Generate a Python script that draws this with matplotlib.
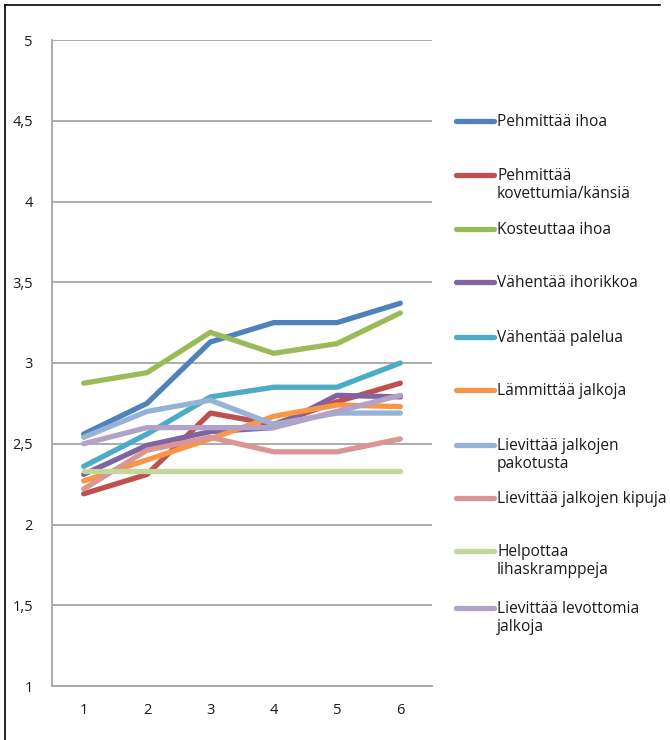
import matplotlib
matplotlib.use("Agg")
import matplotlib.pyplot as plt
from matplotlib.lines import Line2D

plt.rcParams['font.family'] = ['Open Sans', 'DejaVu Sans']

# Measurement rounds
rounds = [1, 2, 3, 4, 5, 6]

# Series names (legend) and their values per round
series_names = [
    "Pehmittää ihoa",
    "Pehmittää\nkovettumia/känsiä",
    "Kosteuttaa ihoa",
    "Vähentää ihorikkoa",
    "Vähentää palelua",
    "Lämmittää jalkoja",
    "Lievittää jalkojen\npakotusta",
    "Lievittää jalkojen kipuja",
    "Helpottaa\nlihaskramppeja",
    "Lievittää levottomia\njalkoja",
]

pehmittaa_ihoa = [2.56, 2.75, 3.13, 3.25, 3.25, 3.37]
pehmittaa_kovettumia = [2.19, 2.31, 2.69, 2.62, 2.76, 2.875]
kosteuttaa_ihoa = [2.875, 2.94, 3.19, 3.06, 3.12, 3.31]
vahentaa_ihorikkoa = [2.31, 2.49, 2.575, 2.60, 2.80, 2.79]
vahentaa_palelua = [2.36, 2.56, 2.79, 2.85, 2.85, 3.00]
lammittaa_jalkoja = [2.27, 2.40, 2.53, 2.67, 2.74, 2.73]
lievittaa_pakotusta = [2.54, 2.70, 2.77, 2.62, 2.69, 2.69]
lievittaa_kipuja = [2.22, 2.46, 2.54, 2.45, 2.45, 2.53]
helpottaa_kramppeja = [2.33, 2.33, 2.33, 2.33, 2.33, 2.33]
lievittaa_levottomia = [2.50, 2.60, 2.60, 2.60, 2.70, 2.80]

series_values = [
    pehmittaa_ihoa, pehmittaa_kovettumia, kosteuttaa_ihoa, vahentaa_ihorikkoa,
    vahentaa_palelua, lammittaa_jalkoja, lievittaa_pakotusta, lievittaa_kipuja,
    helpottaa_kramppeja, lievittaa_levottomia,
]

colors = [
    "#4F81BD", "#C0504D", "#9BBB59", "#8064A2", "#4BACC6",
    "#F79646", "#95B3D7", "#D99694", "#C3D69B", "#B3A2C7",
]

y_ticks = [1, 1.5, 2, 2.5, 3, 3.5, 4, 4.5, 5]
y_tick_labels = ["1", "1,5", "2", "2,5", "3", "3,5", "4", "4,5", "5"]

W, H = 670, 740
fig = plt.figure(figsize=(W / 100, H / 100), dpi=100)
ax = fig.add_axes([52 / W, 1 - 686 / H, 380 / W, 646 / H])

for vals, col in zip(series_values, colors):
    ax.plot(rounds, vals, color=col, lw=3.8, solid_capstyle="round",
            solid_joinstyle="round", zorder=3)

ax.set_xlim(0.5, 6.5)
ax.set_ylim(1, 5)
ax.set_yticks(y_ticks)
ax.set_yticklabels(y_tick_labels)
ax.set_xticks(rounds)
ax.set_xticklabels([str(r) for r in rounds])
ax.tick_params(axis="both", length=0, labelsize=10.5, colors="#1a1a1a")
ax.tick_params(axis="y", pad=13.7)
ax.tick_params(axis="x", pad=12.5)

grid_col = "#A6A6A6"
ax.yaxis.grid(True, color=grid_col, lw=1.3, zorder=1)
ax.set_axisbelow(True)
for side in ("top", "right"):
    ax.spines[side].set_visible(False)
for side in ("left", "bottom"):
    ax.spines[side].set_color(grid_col)
    ax.spines[side].set_linewidth(1.3)

# Legend: line sample, with the label's first line level with the sample
leg_y = [121, 175, 229, 282, 337, 390, 445, 498, 551, 608]
line_step = 18
for name, col, yp in zip(series_names, colors, leg_y):
    yf = 1 - yp / H
    fig.add_artist(Line2D([456 / W, 494 / W], [yf, yf], color=col, lw=3.8,
                          solid_capstyle="round", transform=fig.transFigure))
    for k, part in enumerate(name.split("\n")):
        fig.text(497 / W, 1 - (yp + 5 + k * line_step) / H, part,
                 fontsize=11.2, va="baseline", ha="left", color="#1a1a1a")

# Outer frame (left and top edges)
fig.add_artist(Line2D([5 / W, 5 / W], [0, 1 - 5 / H], color="black", lw=1.2,
                      transform=fig.transFigure))
fig.add_artist(Line2D([5 / W, 660 / W], [1 - 5 / H, 1 - 5 / H], color="black",
                      lw=1.2, transform=fig.transFigure))

fig.savefig("out.png", dpi=100, facecolor="white")
